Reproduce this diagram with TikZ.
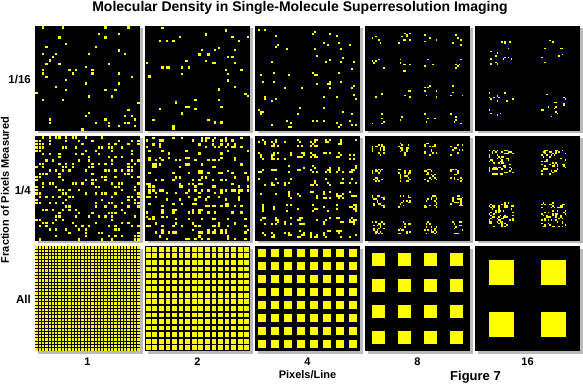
\documentclass[tikz,border=0pt]{standalone}
\usepackage{fontspec}
\setmainfont{Liberation Sans}
\usetikzlibrary{positioning}
\definecolor{Dot}{HTML}{FFFF00}
\definecolor{Shade}{HTML}{8C8C8C}
\tikzset{
    panel/.style={fill=black},
    shadowbox/.style={fill=Shade, opacity=0.6},
    dotpix/.style={fill=Dot},
    rowlabel/.style={anchor=east, font=\bfseries\fontsize{11.5}{13}\selectfont, inner sep=0pt},
    collabel/.style={font=\bfseries\fontsize{11}{13}\selectfont, inner sep=0pt},
}
% panel with sampled pixels: x0, y0, pixels/line, block size, fraction
\newcommand{\sparsepanel}[5]{%
  \begin{scope}[shift={(#1,#2)}]
    \fill[shadowbox] (2.5,2.5) rectangle ++(105,105);
    \fill[panel] (0,0) rectangle ++(105,105);
    \pgfmathsetmacro{\pitch}{105*#3/32}
    \pgfmathsetmacro{\off}{(\pitch-#4)/2}
    \pgfmathsetmacro{\pix}{#4/#3}
    \foreach \u in {0,...,31}{
      \foreach \v in {0,...,31}{
        \pgfmathtruncatemacro{\hit}{rnd<#5}
        \ifnum\hit=1
          \pgfmathsetmacro{\px}{floor(\u/#3)*\pitch+\off+mod(\u,#3)*\pix}
          \pgfmathsetmacro{\py}{floor(\v/#3)*\pitch+\off+mod(\v,#3)*\pix}
          \fill[dotpix] (\px,\py) rectangle ++(\pix,\pix);
        \fi
      }
    }
  \end{scope}}
% panel with all pixels: x0, y0, blocks per line, block size
\newcommand{\fullpanel}[4]{%
  \begin{scope}[shift={(#1,#2)}]
    \fill[shadowbox] (2.5,2.5) rectangle ++(105,105);
    \fill[panel] (0,0) rectangle ++(105,105);
    \pgfmathsetmacro{\pitch}{105/#3}
    \pgfmathsetmacro{\off}{(\pitch-#4)/2}
    \pgfmathtruncatemacro{\last}{#3-1}
    \foreach \i in {0,...,\last}{
      \foreach \j in {0,...,\last}{
        \fill[dotpix] (\i*\pitch+\off,\j*\pitch+\off) rectangle ++(#4,#4);
      }
    }
  \end{scope}}

\begin{document}
\begin{tikzpicture}[x=1pt, y=-1pt]
    \useasboundingbox[fill=white] (0,0) rectangle (583,387);
    \pgfmathsetseed{7}

    % Titolo
    \node[font=\bfseries\fontsize{14}{16}\selectfont, inner sep=0pt] (title) at (300,8)
        {Molecular Density in Single-Molecule Superresolution Imaging};

    % Riga 1/16
    \sparsepanel{35}{26}{1}{2.3}{0.0625}
    \sparsepanel{145}{26}{2}{4.8}{0.0625}
    \sparsepanel{255}{26}{4}{8}{0.0625}
    \sparsepanel{365}{26}{8}{13}{0.0625}
    \sparsepanel{475}{26}{16}{25}{0.0625}

    % Riga 1/4
    \sparsepanel{35}{136}{1}{2.3}{0.25}
    \sparsepanel{145}{136}{2}{4.8}{0.25}
    \sparsepanel{255}{136}{4}{8}{0.25}
    \sparsepanel{365}{136}{8}{13}{0.25}
    \sparsepanel{475}{136}{16}{25}{0.25}

    % Riga All
    \fullpanel{35}{246}{32}{2.3}
    \fullpanel{145}{246}{16}{4.8}
    \fullpanel{255}{246}{8}{8}
    \fullpanel{365}{246}{4}{13}
    \fullpanel{475}{246}{2}{25}

    % Etichette
    \node[rowlabel] (rowA) at (31,79) {1/16};
    \node[rowlabel] (rowB) at (31,190) {1/4};
    \node[rowlabel] (rowC) at (31,299) {All};
    \node[collabel, rotate=90] (yaxis) at (5,190) {Fraction of Pixels Measured};

    \node[collabel] (colA) at (87.5,362) {1};
    \node[collabel] (colB) at (197.5,362) {2};
    \node[collabel] (colC) at (307.5,362) {4};
    \node[collabel] (colD) at (417.5,362) {8};
    \node[collabel] (colE) at (527.5,362) {16};
    \node[collabel] (xaxis) at (307.5,374.5) {Pixels/Line};

    \node[font=\bfseries\fontsize{13}{15}\selectfont, inner sep=0pt] (fig) at (475.5,377) {Figure 7};
\end{tikzpicture}
\end{document}
